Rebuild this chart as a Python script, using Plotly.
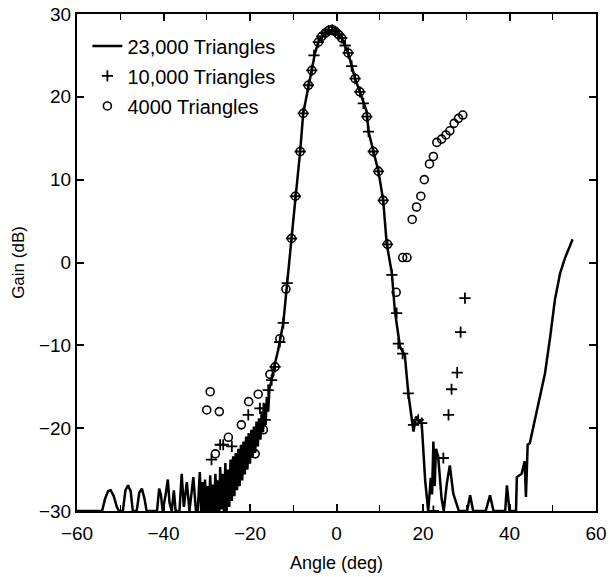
import plotly.graph_objects as go

# 23,000 Triangles (solid line), hand-read
line_angle = [-60, -54.2, -53.5, -52.8, -52.2, -51.5, -50.8, -50.3, -49.4, -48.8, -48.2, -47.6, -47.1,
              -46.2, -45.6, -45.0, -44.4, -43.9, -41.5, -41.0, -40.6, -40.2, -39.5, -39.0, -38.6, -38.1,
              -37.6, -37.2, -36.3, -35.8, -35.3, -34.6, -34.0, -33.1, -32.5, -32.1,
              -31.6, -31.3, -31.0, -30.7, -30.4, -30.1, -29.8, -29.5, -29.2, -28.9, -28.6, -28.3,
              -28.0, -27.7, -27.4, -27.1, -26.9, -26.6, -26.3, -26.0, -25.7, -25.4, -25.1, -24.8,
              -24.5, -24.2, -23.9, -23.6, -23.3, -23.0, -22.7, -22.4, -22.1, -21.8, -21.5, -21.2,
              -20.9, -20.6, -20.3, -20.0, -19.7, -19.4, -19.1, -18.8, -18.5, -18.2, -17.9, -17.6,
              -17.3, -17.0, -16.7, -16.4, -16.1, -15.8, -15.5,
              -15.0, -14.6, -13.5, -12.3, -11.4, -10.4, -9.4, -8.4, -7.7, -6.5, -5.7, -5.0, -4.2,
              -3.0, -2.0, -1.0, 0.0, 1.2, 2.7, 4.3, 5.4, 7.0, 7.4, 8.5, 9.7, 10.8, 11.6, 12.8, 13.5, 14.7,
              15.8, 16.6, 17.8, 18.4, 18.9, 19.7, 20.5, 21.2, 21.8, 22.1, 22.4, 22.7, 23.0, 23.5, 24.3, 24.8, 25.5,
              26.2, 27.0, 28.3, 30.2, 30.9, 31.6, 34.5, 35.5, 36.3, 39.0, 39.4, 40.0, 41.5, 41.7, 42.8,
              43.5, 43.8, 44.2, 44.7, 45.9, 47.1, 48.2, 49.4, 50.5, 51.7, 52.8, 54.6]
line_gain = [-30, -30, -28.5, -27.6, -27.5, -28.2, -29.5, -30, -30, -27.5, -26.9, -27.6, -30,
             -30, -27.8, -27.3, -28.5, -30, -30, -27.3, -28.0, -30, -28.0, -26.2, -29.0, -30,
             -27.5, -30, -30, -25.5, -29.5, -26.5, -30, -25.9, -30, -30,
             -25.3, -30, -26.5, -30, -26.2, -30, -27.0, -30, -25.7, -30, -26.8, -30,
             -25.5, -30, -26.3, -30, -24.7, -29.8, -25.5, -30, -24.2, -30, -25.0, -29.5,
             -23.8, -28.8, -23.4, -28.2, -23.0, -27.5, -22.5, -27.0, -22.0, -26.3, -21.6, -25.6,
             -21.0, -25.0, -20.6, -24.3, -20.2, -23.6, -19.8, -23.0, -19.2, -22.2, -18.8, -21.4,
             -18.0, -20.5, -17.0, -19.6, -16.2, -18.0, -15.2,
             -14.2, -13.0, -10.6, -7.3, -2.1, 2.9, 8.2, 13.4, 18.0, 21.4, 23.2, 25.2, 26.6,
             27.5, 27.9, 28.0, 27.8, 27.1, 25.3, 22.2, 20.6, 18.2, 15.8, 13.4, 11.0, 7.5, 2.3, -1.3, -5.9, -10.2,
             -11.2, -15.8, -20.4, -18.6, -19.0, -19.4, -26.3, -30, -26.0, -28.0, -21.6, -27.0, -22.5, -23.4, -28.5, -30, -26.7,
             -24.5, -27.9, -30, -30, -28.1, -30, -30, -28.1, -30, -30, -26.9, -30, -30, -25.9, -25.5,
             -24.0, -28.3, -22.0, -21.8, -19.0, -15.8, -13.4, -9.0, -4.5, -1.3, 0.5, 2.8]

# 10,000 Triangles (plus markers)
plus_angle = [-28.9, -26.9, -26.2, -24.2, -20.4, -17.7, -16.9, -16.5, -15.8,
              -15.0, -14.2, -13.1, -12.3, -11.4, -10.4, -9.5, -8.4, -7.7, -6.5, -5.7, -5.2, -4.2,
              -3.4, -2.6, -1.8, -1.0, -0.3, 0.5, 1.2, 2.0, 2.7, 3.5, 4.3, 5.4, 6.2, 7.0, 7.4, 8.5,
              9.7, 10.8, 11.8, 12.8, 13.9, 14.3, 15.3, 16.6, 17.8, 18.9, 19.7,
              22.4, 24.7, 25.9, 26.6, 27.9, 28.7, 29.7]
plus_gain = [-23.8, -22.0, -22.0, -22.2, -18.4, -17.6, -17.6, -19.0, -15.4,
             -14.2, -12.6, -9.6, -7.3, -2.5, 2.9, 8.0, 13.4, 18.0, 21.4, 23.2, 25.0, 26.6,
             27.3, 27.7, 28.0, 28.1, 27.9, 27.5, 27.1, 26.2, 25.3, 23.7, 22.2, 20.6, 19.2, 17.6, 15.8, 13.4,
             11.0, 7.5, 2.2, -1.5, -6.1, -9.8, -11.0, -15.8, -19.6, -19.0, -19.4,
             -30.0, -23.6, -18.4, -15.3, -13.3, -8.4, -4.3]

# 4000 Triangles (open circles)
circ_angle = [-30.0, -29.2, -27.1, -28.0, -25.0, -22.0, -20.3, -18.1, -16.9, -18.8, -15.4,
              -14.2, -13.1, -11.7, -10.4, -9.5, -8.4, -7.7, -6.5, -5.7, -4.2, -3.4, -2.6, -1.8,
              -1.0, -0.3, 0.5, 1.2, 2.7, 4.3, 5.4, 7.0, 8.5, 9.7, 10.8, 11.8, 13.8,
              15.3, 16.3, 17.5, 18.5, 19.5, 20.3, 21.5, 22.4, 23.2, 24.3, 25.3, 26.2, 27.2, 28.2, 29.2]
circ_gain = [-17.8, -15.6, -18.0, -23.1, -21.1, -19.6, -16.8, -15.9, -20.2, -23.1, -13.5,
             -12.6, -9.2, -3.2, 2.9, 8.0, 13.4, 18.0, 21.4, 23.2, 26.6, 27.3, 27.7, 28.0,
             28.1, 27.9, 27.5, 27.1, 25.3, 22.2, 20.6, 17.6, 13.4, 11.0, 7.5, 2.2, -3.6,
             0.6, 0.6, 5.2, 6.7, 8.0, 10.0, 11.9, 12.8, 14.5, 14.9, 15.4, 15.9, 16.8, 17.4, 17.8]

x_ticks = [-60, -40, -20, 0, 20, 40, 60]
y_ticks = [-30, -20, -10, 0, 10, 20, 30]

FONT = "Liberation Sans, Arial, sans-serif"

fig = go.Figure()
fig.add_trace(go.Scatter(x=line_angle, y=line_gain, mode="lines", name="23,000 Triangles",
                         line=dict(color="black", width=2.5), legendgroup="a"))
fig.add_trace(go.Scatter(x=plus_angle, y=plus_gain, mode="markers", name="10,000 Triangles",
                         marker=dict(symbol="cross-thin", size=8, color="black",
                                     line=dict(color="black", width=1.8)), legendgroup="b"))
fig.add_trace(go.Scatter(x=circ_angle, y=circ_gain, mode="markers", name="4000 Triangles",
                         marker=dict(symbol="circle-open", size=8, color="black",
                                     line=dict(color="black", width=1.6)), legendgroup="c"))

axis_common = dict(showline=True, linecolor="black", linewidth=2, mirror="ticks",
                   ticks="inside", ticklen=7, tickwidth=1.5, tickcolor="black",
                   showgrid=False, zeroline=False, automargin=False,
                   tickfont=dict(family=FONT, size=19, color="black"))

fig.update_layout(
    width=610, height=577,
    margin=dict(l=77, r=14, t=14, b=66),
    paper_bgcolor="white", plot_bgcolor="white",
    font=dict(family=FONT, color="black"),
    xaxis=dict(range=[-60, 60], tickvals=x_ticks, ticklabelstandoff=4,
               minor=dict(dtick=10, ticks="inside", ticklen=6, tickcolor="black", tickwidth=1.2),
               title=dict(text="Angle (deg)", font=dict(family=FONT, size=18), standoff=14),
               **axis_common),
    yaxis=dict(range=[-30, 30], tickvals=y_ticks,
               title=dict(text="Gain (dB)", font=dict(family=FONT, size=17), standoff=10),
               **axis_common),
    legend=dict(x=0.02, y=0.975, xanchor="left", yanchor="top",
                font=dict(family=FONT, size=20, color="black"),
                bgcolor="rgba(0,0,0,0)", tracegroupgap=1),
    showlegend=True,
)

fig.write_html("out.html")
